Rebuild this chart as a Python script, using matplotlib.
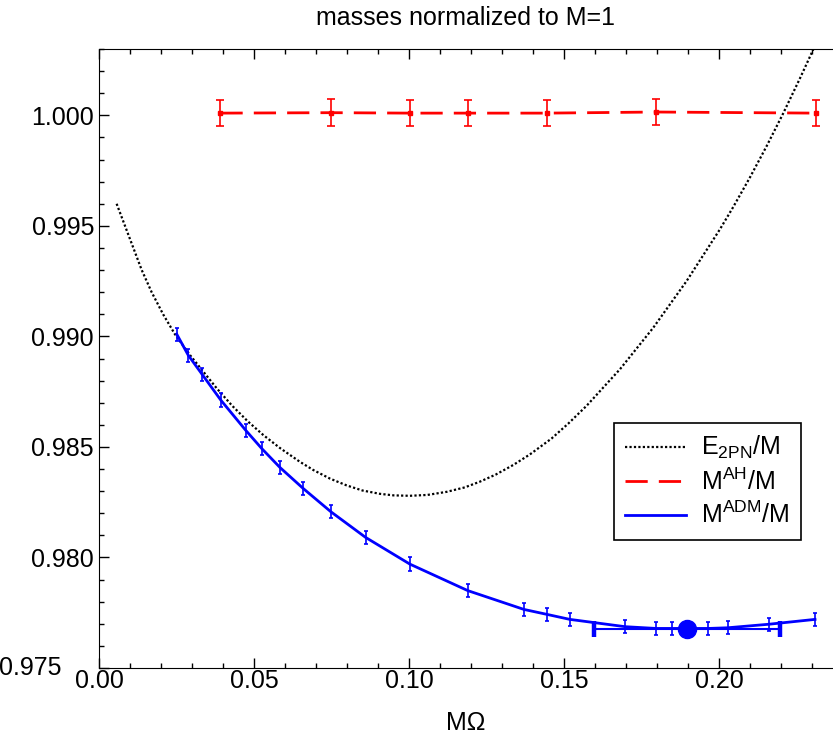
import numpy as np
import matplotlib
matplotlib.use("Agg")
import matplotlib.pyplot as plt
from matplotlib.ticker import MultipleLocator, FuncFormatter
from matplotlib.lines import Line2D
from matplotlib.transforms import blended_transform_factory

plt.rcParams['font.family'] = ['Liberation Sans', 'DejaVu Sans']
plt.rcParams['mathtext.default'] = 'regular'

# ------------------------------------------------------------
# data
# ------------------------------------------------------------
# E_2PN / M (dotted black)
pn_x = [0.0057, 0.0111, 0.0138, 0.0170, 0.0207, 0.0245, 0.0294, 0.0380,
        0.0430, 0.0480, 0.0530, 0.0584, 0.0648, 0.0691, 0.0745, 0.0799,
        0.0850, 0.0906, 0.0950, 0.1003, 0.1060, 0.1122, 0.1180, 0.1229,
        0.1280, 0.1336, 0.1390, 0.1460, 0.1515, 0.1573, 0.1681, 0.1788,
        0.1896, 0.2003, 0.2046, 0.2100, 0.2154, 0.2207, 0.2261, 0.2303,
        0.2320]
pn_y = [0.99600, 0.99400, 0.99300, 0.99200, 0.99100, 0.99010, 0.98915, 0.98765,
        0.98686, 0.98616, 0.98554, 0.98495, 0.98433, 0.98396, 0.98357, 0.98326,
        0.98303, 0.98288, 0.98281, 0.98279, 0.98283, 0.98297, 0.98317, 0.98343,
        0.98375, 0.98418, 0.98466, 0.98538, 0.98607, 0.98686, 0.98852, 0.99039,
        0.99251, 0.99484, 0.99585, 0.99719, 0.99861, 1.00008, 1.00166, 1.00294,
        1.00347]

# M_AH / M (red dashed, with error bars)
ah_x = [0.0392, 0.0750, 0.1004, 0.1191, 0.1444, 0.1797, 0.2312]
ah_y = [1.00010, 1.00012, 1.00010, 1.00010, 1.00010, 1.00015, 1.00010]
ah_err = 0.0006

# M_ADM / M (blue solid, with error bars)
adm_x = [0.0251, 0.0288, 0.0333, 0.0393, 0.0473, 0.0525, 0.0584, 0.0659,
         0.0748, 0.0860, 0.1003, 0.1190, 0.1371, 0.1444, 0.1519, 0.1697,
         0.1797, 0.1848, 0.1966, 0.2028, 0.2161, 0.2310]
adm_y = [0.99010, 0.98915, 0.98828, 0.98712, 0.98576, 0.98493, 0.98407, 0.98312,
         0.98207, 0.98091, 0.97970, 0.97850, 0.97765, 0.97743, 0.97720, 0.97687,
         0.97679, 0.97679, 0.97679, 0.97682, 0.97698, 0.97720]
adm_err = 0.0003

# minimum of M_ADM
min_x = 0.1896
min_y = 0.97678
min_xerr = 0.03

labels = [r'E$_{2PN}$/M', r'M$^{AH}$/M', r'M$^{ADM}$/M']

# ------------------------------------------------------------
# plot
# ------------------------------------------------------------
fig = plt.figure(figsize=(8.33, 7.37), dpi=100)
ax = fig.add_axes([0.1188, 0.0936, 0.8812, 0.8399])

dot_ls = (0, (1, 1))
dash_ls = (0, (8, 4))

ax.plot(pn_x, pn_y, color='black', lw=1.6, ls=dot_ls)

ax.errorbar(ah_x, ah_y, yerr=ah_err, color='red', lw=2, ls=dash_ls,
            marker='s', ms=3, capsize=2.6, elinewidth=1.2, capthick=1.2)

ax.errorbar(adm_x, adm_y, yerr=adm_err, color='blue', lw=2,
            capsize=1.6, elinewidth=1.2, capthick=1.2)

ax.errorbar([min_x], [min_y], xerr=min_xerr, color='blue', marker='o',
            ms=13, lw=1.5, capsize=6, capthick=3.2)

ax.set_xlim(0.0, 0.2368)
ax.set_ylim(0.975, 1.003)
ax.xaxis.set_major_locator(MultipleLocator(0.05))
ax.xaxis.set_minor_locator(MultipleLocator(0.01))
ax.yaxis.set_major_locator(MultipleLocator(0.005))
ax.yaxis.set_minor_locator(MultipleLocator(0.001))
ax.xaxis.set_major_formatter(FuncFormatter(lambda v, p: '%.2f' % v))
# the bottom y label is drawn separately, shifted left like in the original
ax.yaxis.set_major_formatter(
    FuncFormatter(lambda v, p: '' if abs(v - 0.975) < 1e-6 else '%.3f' % v))

ax.tick_params(which='both', direction='in', top=True, right=False,
               labelsize=18)
ax.tick_params(which='major', length=7, width=1)
ax.tick_params(which='minor', length=3.5, width=1)
ax.tick_params(axis='x', pad=1)
ax.spines['right'].set_visible(False)

trans = blended_transform_factory(ax.transAxes, ax.transData)
ax.text(-0.0504, 0.975, '0.975', transform=trans, ha='right', va='center',
        fontsize=18, clip_on=False)

ax.set_xlabel('MΩ', fontsize=18, labelpad=13)
ax.set_title('masses normalized to M=1', fontsize=18, pad=17)

handles = [Line2D([], [], color='black', lw=1.6, ls=dot_ls),
           Line2D([], [], color='red', lw=2, ls=dash_ls),
           Line2D([], [], color='blue', lw=2)]
leg = ax.legend(handles, labels, loc='upper left',
                bbox_to_anchor=(0.7016, 0.3958),
                fontsize=18, handlelength=2.45, handletextpad=0.6,
                labelspacing=0.28, borderpad=0.45, borderaxespad=0,
                fancybox=False, framealpha=1)
leg.get_frame().set_edgecolor('black')
leg.get_frame().set_linewidth(1.2)

fig.savefig('out.png', dpi=100)
